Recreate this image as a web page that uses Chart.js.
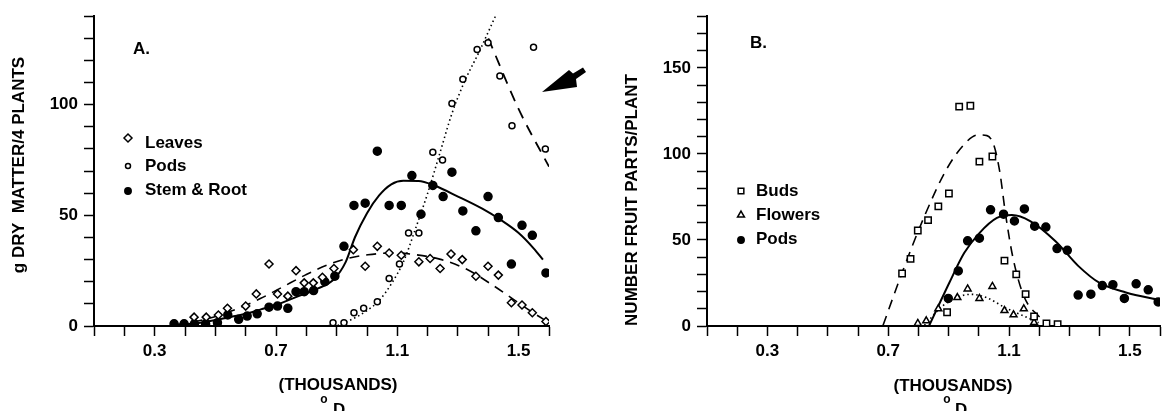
<!DOCTYPE html>
<html>
<head>
<meta charset="utf-8">
<script src="https://cdn.jsdelivr.net/npm/chart.js@4.4.1/dist/chart.umd.min.js"></script>
<style>
  html, body { margin: 0; padding: 0; background: #fff; }
  #wrap { position: relative; width: 1166px; height: 411px; overflow: hidden; background: #fff; }
  canvas { position: absolute; top: 0; }
  #chartA { left: 0; }
  #chartB { left: 600px; }
</style>
</head>
<body>
<div id="wrap">
  <canvas id="chartA" width="600" height="411"></canvas>
  <canvas id="chartB" width="566" height="411"></canvas>
</div>
<script>
// tick labels
const xTickLabels = ['0.3', '0.7', '1.1', '1.5'];
const yTickLabelsA = ['0', '50', '100'];
const yTickLabelsB = ['0', '50', '100', '150'];

// ---- panel A: g dry matter / 4 plants ----
const leavesX = [0.43, 0.47, 0.51, 0.54, 0.60, 0.635, 0.677, 0.705, 0.739, 0.766, 0.793, 0.823, 0.853, 0.891, 0.955, 0.994, 1.034, 1.073, 1.113, 1.171, 1.208, 1.241, 1.277, 1.314, 1.359, 1.399, 1.433, 1.476, 1.511, 1.545, 1.59];
const leavesY = [4, 4, 5, 8, 9, 14.5, 28, 14.5, 13.5, 25, 19.5, 19.5, 22, 26, 34.5, 27, 36, 33, 32, 29, 30.5, 26, 32.5, 30, 22.5, 27, 23, 10.5, 9.5, 6, 2];

const podsAX = [0.888, 0.924, 0.957, 0.989, 1.034, 1.073, 1.107, 1.137, 1.171, 1.217, 1.249, 1.28, 1.316, 1.363, 1.399, 1.438, 1.478, 1.549, 1.588];
const podsAY = [1.5, 1.5, 6, 8, 11, 21.5, 28, 42, 42, 78.5, 75, 100.5, 111.5, 125, 128, 113, 90.5, 126, 80];

const stemX = [0.364, 0.397, 0.431, 0.468, 0.507, 0.541, 0.577, 0.605, 0.638, 0.677, 0.705, 0.739, 0.766, 0.793, 0.824, 0.861, 0.894, 0.924, 0.957, 0.994, 1.034, 1.073, 1.113, 1.148, 1.178, 1.217, 1.251, 1.28, 1.316, 1.359, 1.399, 1.433, 1.476, 1.511, 1.545, 1.59];
const stemY = [1, 1, 1, 1, 1.5, 5, 3, 4.5, 5.5, 8.5, 9, 8, 15.5, 15.5, 16, 20, 22.5, 36, 54.5, 55.5, 79, 54.5, 54.5, 68, 50.5, 63.5, 58.5, 69.5, 52, 43, 58.5, 49, 28, 45.5, 41, 24];

// fitted curves
const leavesFitX = [0.37, 0.48, 0.576, 0.65, 0.72, 0.796, 0.869, 0.942, 1.003, 1.088, 1.161, 1.246, 1.332, 1.405, 1.478, 1.551, 1.6];
const leavesFitY = [0.5, 3.5, 8, 12.5, 17.5, 23, 27.6, 30.7, 32.2, 33, 32.2, 30, 25.4, 19.3, 12.5, 5.7, 1.5];
const stemFitX = [0.37, 0.45, 0.53, 0.6, 0.65, 0.7, 0.77, 0.83, 0.89, 0.93, 0.96, 1.0, 1.04, 1.08, 1.12, 1.17, 1.22, 1.3, 1.38, 1.44, 1.5, 1.55, 1.58];
const stemFitY = [0.3, 1.5, 3.5, 5.5, 7.5, 9.5, 13.3, 16.5, 21, 29, 40, 51, 59, 64, 65.6, 65.5, 63.6, 58.5, 53, 48, 42, 35, 30];
const podsRiseX = [0.74, 0.9, 0.95, 1.0, 1.04, 1.08, 1.12, 1.16, 1.2, 1.24, 1.28, 1.32, 1.37, 1.43];
const podsRiseY = [0, 0.3, 3, 7, 11.5, 19, 29, 44, 60, 78, 96, 110, 124, 142];
const podsFallX = [1.40, 1.5, 1.6];
const podsFallY = [130, 98, 72];

// ---- panel B: number fruit parts / plant ----
const budsX = [0.746, 0.774, 0.798, 0.832, 0.866, 0.895, 0.901, 0.935, 0.972, 1.002, 1.045, 1.085, 1.124, 1.155, 1.183, 1.224, 1.261];
const budsY = [30.5, 39, 55.5, 61.5, 69.5, 8, 77, 127.5, 128, 95.5, 98.5, 38, 30, 18.5, 5.5, 1.5, 1];
const flowersX = [0.798, 0.826, 0.866, 0.929, 0.963, 1.002, 1.045, 1.085, 1.115, 1.149, 1.183];
const flowersY = [1.5, 3, 10, 16.5, 21.5, 16, 23, 9, 6.5, 10, 2];
const podsBX = [0.899, 0.932, 0.963, 1.002, 1.039, 1.082, 1.118, 1.151, 1.185, 1.222, 1.259, 1.293, 1.329, 1.371, 1.409, 1.444, 1.482, 1.521, 1.561, 1.594];
const podsBY = [16, 32, 49.5, 51, 67.5, 65, 61, 68, 58, 57.5, 45, 44, 18, 18.5, 23.5, 24, 16, 24.5, 21, 14];

const budsFitX = [0.683, 0.746, 0.82, 0.893, 0.954, 0.996, 1.027, 1.051, 1.07, 1.088, 1.112, 1.149, 1.198, 1.234];
const budsFitY = [0.4, 31, 63.8, 91, 106, 111, 110.6, 104.4, 89, 65.7, 40.6, 17.4, 5.8, 1];
const flowersFitX = [0.82, 0.88, 0.94, 0.976, 1.027, 1.088, 1.149, 1.198];
const flowersFitY = [0.4, 11.6, 17.4, 18.4, 16.4, 10.6, 5.8, 1.9];
const podsBFitX = [0.835, 0.866, 0.902, 0.952, 1.002, 1.06, 1.11, 1.17, 1.254, 1.33, 1.4, 1.487, 1.6];
const podsBFitY = [0, 11.6, 25, 42.5, 54, 62.8, 64.5, 61, 49.3, 34.8, 25, 19.5, 15];

const FONT = '"Liberation Sans", Arial, sans-serif';
const BOLD17 = 'bold 17px ' + FONT;

function zip(xs, ys) { return xs.map((x, i) => ({ x: x, y: ys[i] })); }

function points(label, xs, ys, style, radius, filled) {
  return {
    type: 'scatter', label: label, data: zip(xs, ys), order: 0,
    pointStyle: style, pointRadius: radius,
    pointBackgroundColor: filled ? '#000' : '#fff',
    pointBorderColor: '#000', pointBorderWidth: 1.5
  };
}

function curve(xs, ys, dash, width) {
  return {
    type: 'line', data: zip(xs, ys), order: 1,
    borderColor: '#000', borderWidth: width, borderDash: dash, borderCapStyle: 'butt',
    pointRadius: 0, fill: false, cubicInterpolationMode: 'monotone'
  };
}

function scales(yMax, yLabels, yWidth) {
  const tickFont = { family: FONT, size: 17, weight: 'bold' };
  const grid = { drawOnChartArea: false, drawTicks: true, tickLength: 10, tickColor: '#000', tickWidth: 1.5 };
  return {
    x: {
      type: 'linear', min: 0.1, max: 1.6,
      afterFit: s => { s.height = 85; },
      border: { display: true, color: '#000', width: 2 },
      grid: grid,
      ticks: {
        stepSize: 0.1, autoSkip: false, maxRotation: 0, padding: 5, color: '#000', font: tickFont,
        callback: v => { const s = (Math.round(v * 10) / 10).toFixed(1); return xTickLabels.includes(s) ? s : ''; }
      }
    },
    y: {
      type: 'linear', min: 0, max: yMax,
      afterFit: s => { s.width = yWidth; },
      border: { display: true, color: '#000', width: 2 },
      grid: grid,
      ticks: {
        stepSize: 10, autoSkip: false, padding: 6, color: '#000', font: tickFont,
        callback: v => { const s = String(Math.round(v)); return yLabels.includes(s) ? s : ''; }
      }
    }
  };
}

function legend(ctx, items, mx, tx, ys) {
  items.forEach((it, i) => {
    ctx.fillStyle = it.filled ? '#000' : '#fff';
    ctx.strokeStyle = '#000';
    ctx.lineWidth = 1.5;
    Chart.helpers.drawPoint(ctx, { pointStyle: it.style, radius: it.r, borderWidth: 1.5, rotation: 0 }, mx, ys[i] + (it.dy || 0));
    ctx.fillStyle = '#000';
    ctx.fillText(it.text, tx, ys[i]);
  });
}

function degreeD(ctx, ox, dx, y) {
  ctx.textAlign = 'center';
  ctx.font = 'bold 12px ' + FONT;
  ctx.fillText('o', ox, y - 10);
  ctx.textAlign = 'left';
  ctx.font = BOLD17;
  ctx.fillText('D', dx, y);
}

const annotateA = {
  id: 'annotateA',
  afterDraw(chart) {
    const ctx = chart.ctx;
    ctx.save();
    ctx.fillStyle = '#000';
    ctx.font = BOLD17;
    ctx.textBaseline = 'middle';
    ctx.textAlign = 'left';
    ctx.fillText('A.', 133, 49);
    legend(ctx, [
      { text: 'Leaves', style: 'rectRot', r: 4, filled: false, dy: -5 },
      { text: 'Pods', style: 'circle', r: 2.5, filled: false },
      { text: 'Stem & Root', style: 'circle', r: 3.2, filled: true, dy: 1 }
    ], 128, 145, [143, 166, 190]);
    ctx.textAlign = 'center';
    ctx.fillText('(THOUSANDS)', 338, 385);
    degreeD(ctx, 324, 333, 410);
    // arrow pointing at the pods decline
    ctx.beginPath();
    ctx.moveTo(542, 92);
    ctx.lineTo(569, 70);
    ctx.lineTo(573, 73.5);
    ctx.lineTo(583, 67.5);
    ctx.lineTo(586, 72);
    ctx.lineTo(576, 79);
    ctx.lineTo(577, 87);
    ctx.closePath();
    ctx.fill();
    ctx.translate(19, 165);
    ctx.rotate(-Math.PI / 2);
    ctx.textAlign = 'center';
    ctx.font = BOLD17;
    ctx.fillText('g DRY  MATTER/4 PLANTS', 0, 0);
    ctx.restore();
  }
};

const annotateB = {
  id: 'annotateB',
  afterDraw(chart) {
    const ctx = chart.ctx;
    ctx.save();
    ctx.fillStyle = '#000';
    ctx.font = BOLD17;
    ctx.textBaseline = 'middle';
    ctx.textAlign = 'left';
    ctx.fillText('B.', 150, 43);
    legend(ctx, [
      { text: 'Buds', style: 'rect', r: 4, filled: false },
      { text: 'Flowers', style: 'triangle', r: 4, filled: false },
      { text: 'Pods', style: 'circle', r: 3.2, filled: true, dy: 1 }
    ], 141, 156, [191, 215, 239]);
    ctx.textAlign = 'center';
    ctx.fillText('(THOUSANDS)', 353, 386);
    degreeD(ctx, 347, 355, 410);
    ctx.translate(32, 200);
    ctx.rotate(-Math.PI / 2);
    ctx.textAlign = 'center';
    ctx.font = BOLD17;
    ctx.fillText('NUMBER FRUIT PARTS/PLANT', 0, 0);
    ctx.restore();
  }
};

const common = {
  responsive: false, animation: false, devicePixelRatio: 1,
  plugins: { legend: { display: false }, tooltip: { enabled: false } }
};

new Chart(document.getElementById('chartA'), {
  type: 'scatter',
  data: {
    datasets: [
      points('Leaves', leavesX, leavesY, 'rectRot', 4, false),
      points('Pods', podsAX, podsAY, 'circle', 3, false),
      points('Stem & Root', stemX, stemY, 'circle', 4, true),
      curve(leavesFitX, leavesFitY, [10, 7], 1.6),
      curve(stemFitX, stemFitY, [], 2),
      curve(podsRiseX, podsRiseY, [1.5, 3], 1.6),
      curve(podsFallX, podsFallY, [11, 8], 1.8)
    ]
  },
  options: Object.assign({}, common, {
    layout: { padding: { left: 0, right: 51, top: 16, bottom: 0 } },
    scales: scales(140, yTickLabelsA, 94)
  }),
  plugins: [annotateA]
});

new Chart(document.getElementById('chartB'), {
  type: 'scatter',
  data: {
    datasets: [
      points('Buds', budsX, budsY, 'rect', 4.5, false),
      points('Flowers', flowersX, flowersY, 'triangle', 4, false),
      points('Pods', podsBX, podsBY, 'circle', 4, true),
      curve(budsFitX, budsFitY, [10, 7], 1.6),
      curve(flowersFitX, flowersFitY, [1.5, 3], 1.6),
      curve(podsBFitX, podsBFitY, [], 2)
    ]
  },
  options: Object.assign({}, common, {
    layout: { padding: { left: 0, right: 2, top: 16, bottom: 0 } },
    scales: scales(180, yTickLabelsB, 107)
  }),
  plugins: [annotateB]
});
</script>
</body>
</html>
